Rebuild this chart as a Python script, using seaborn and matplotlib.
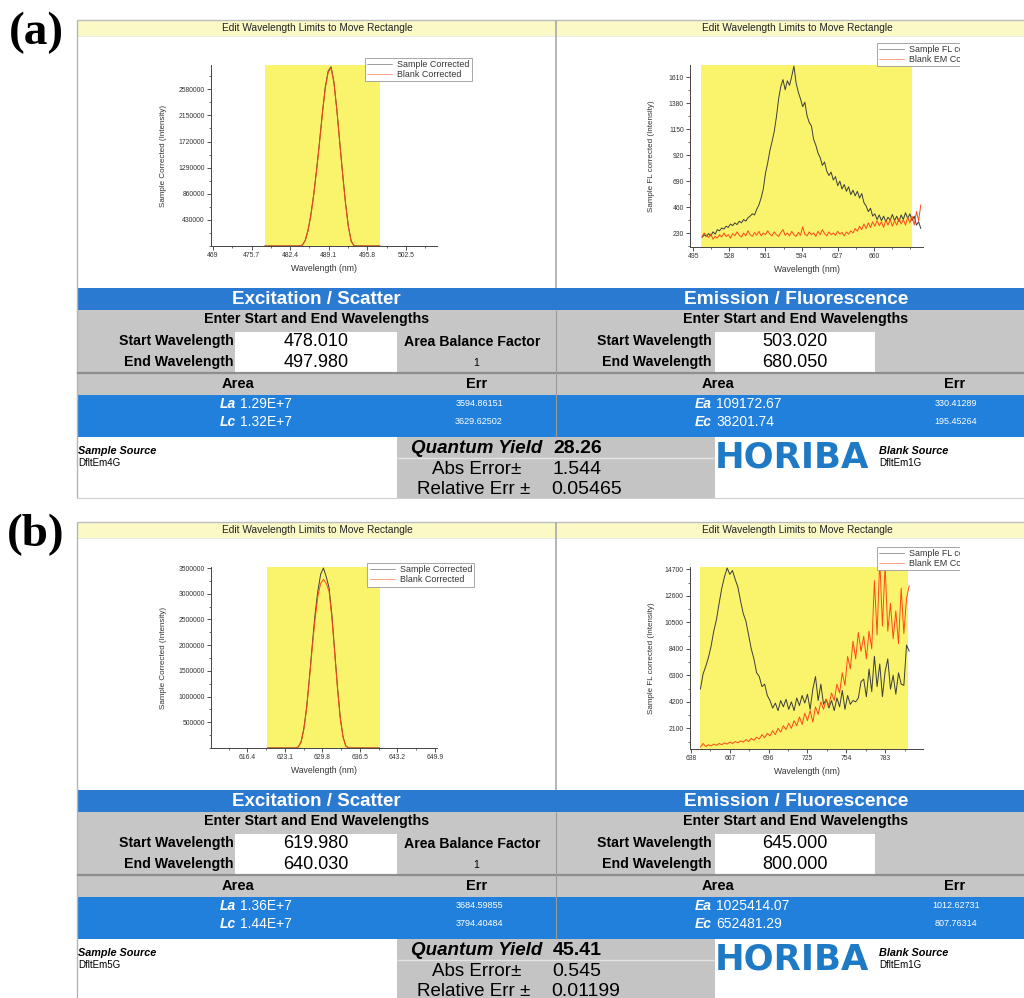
import numpy as np
import pandas as pd
import matplotlib
matplotlib.use("Agg")
import matplotlib.pyplot as plt
import matplotlib.ticker as mticker
from matplotlib.patches import Rectangle
from matplotlib.transforms import Bbox, TransformedBbox
import seaborn as sns

# ------------------------------------------------------------------ data
# (a) excitation / scatter window
exc_a_wl = np.arange(478.0, 498.01, 0.5)
exc_a_sample = [0, 0, 0, 0, 0, 0, 0, 0, 0, 0, 0, 0, 0,
                15000, 90000, 260000, 520000, 860000, 1270000, 1720000, 2200000, 2620000,
                2880000, 2950000, 2700000, 2250000, 1720000, 1200000, 720000, 330000, 80000, 5000,
                0, 0, 0, 0, 0, 0, 0, 0, 0]
exc_a_blank = [0, 0, 0, 0, 0, 0, 0, 0, 0, 0, 0, 0, 0,
               12000, 85000, 250000, 505000, 845000, 1250000, 1700000, 2180000, 2600000,
               2860000, 2930000, 2690000, 2240000, 1710000, 1190000, 710000, 320000, 75000, 4000,
               0, 0, 0, 0, 0, 0, 0, 0, 0]
# (a) emission / fluorescence window
em_a_wl = np.arange(503, 704, 2)
em_a_sample = [190, 215, 200, 225, 205, 240, 220, 260, 250, 275,
               265, 290, 280, 310, 295, 320, 305, 335, 320, 350,
               335, 365, 380, 400, 390, 440, 480, 540, 620, 760,
               850, 960, 1040, 1130, 1260, 1420, 1530, 1590, 1500, 1580,
               1540, 1620, 1710, 1560, 1480, 1420, 1350, 1390, 1270, 1210,
               1180, 1060, 1010, 940, 900, 830, 860, 780, 740, 770,
               700, 730, 650, 690, 620, 660, 600, 640, 570, 610,
               560, 600, 540, 580, 500, 470, 420, 450, 380, 400,
               350, 390, 340, 380, 330, 370, 345, 395, 340, 380,
               330, 390, 350, 410, 360, 400, 340, 380, 300, 330,
               270]
em_a_blank = [200, 230, 210, 190, 220, 175, 200, 185, 215, 195,
              230, 200, 215, 185, 225, 205, 240, 210, 195, 230,
              205, 250, 215, 200, 235, 210, 245, 205, 230, 215,
              250, 220, 205, 240, 215, 200, 235, 260, 210, 230,
              205, 245, 215, 200, 235, 210, 285, 220, 205, 240,
              215, 230, 200, 245, 215, 260, 225, 205, 240, 215,
              230, 210, 245, 220, 235, 205, 240, 220, 250, 230,
              270, 245, 290, 260, 310, 270, 320, 280, 330, 290,
              340, 295, 330, 280, 345, 300, 350, 290, 340, 300,
              360, 310, 350, 300, 370, 320, 380, 300, 420, 340,
              480]
# (b) excitation / scatter window
exc_b_wl = np.arange(620.0, 640.01, 0.5)
exc_b_sample = [0, 0, 0, 0, 0, 0, 0, 0, 0, 0, 0,
                20000, 120000, 380000, 800000, 1380000, 2000000, 2600000, 3050000, 3380000,
                3500000, 3330000, 3120000, 2600000, 1900000, 1200000, 600000, 220000, 40000, 0,
                0, 0, 0, 0, 0, 0, 0, 0, 0, 0, 0]
exc_b_blank = [0, 0, 0, 0, 0, 0, 0, 0, 0, 0, 0,
               18000, 110000, 360000, 770000, 1340000, 1950000, 2500000, 2950000, 3200000,
               3280000, 3200000, 3050000, 2540000, 1860000, 1170000, 580000, 210000, 35000, 0,
               0, 0, 0, 0, 0, 0, 0, 0, 0, 0, 0]
# (b) emission / fluorescence window
em_b_wl = np.arange(645, 802, 2)
em_b_sample = [5200, 6400, 7000, 7700, 8600, 9800, 10700, 12000, 13200, 14100,
               14800, 14300, 14600, 13900, 13300, 12200, 11200, 10600, 9500, 8400,
               7600, 6500, 6200, 5400, 5600, 4700, 4300, 3700, 4100, 3500,
               4300, 3800, 4400, 3600, 4200, 3500, 4500, 3900, 4700, 4100,
               4800, 3600, 5200, 6200, 4300, 5600, 4000, 4400, 3700, 4300,
               3500, 4500, 3800, 5100, 3600, 4700, 4000, 4300, 4200, 4500,
               5800, 6000, 4600, 6800, 5000, 7800, 5400, 7200, 4600, 6600,
               7600, 5200, 6300, 4800, 6500, 5600, 5500, 8700, 8200]
em_b_blank = [600, 900, 650, 800, 700, 850, 750, 900, 800, 950,
              850, 1000, 900, 1050, 950, 1100, 1000, 1200, 1050, 1300,
              1150, 1400, 1250, 1600, 1350, 1700, 1500, 1900, 1600, 2100,
              1800, 2300, 2000, 2500, 2100, 2700, 2300, 3000, 2400, 3300,
              2700, 3500, 2600, 3800, 3200, 4200, 3600, 4400, 3900, 4900,
              4300, 5600, 4900, 6500, 5500, 7800, 6800, 9000, 7600, 9700,
              8200, 9400, 7600, 9800, 8400, 13800, 9500, 15500, 10200, 15000,
              9800, 12000, 9200, 11400, 8800, 13200, 9600, 12400, 13400]

# highlighted integration windows (as drawn)
exc_a_window = (478.01, 497.98)
em_a_window = (502.5, 695.0)
exc_b_window = (619.98, 640.03)
em_b_window = (645.0, 800.0)

# tick values
exc_a_xticks = [469, 475.7, 482.4, 489.1, 495.8, 502.5]
exc_a_yticks = [430000, 860000, 1290000, 1720000, 2150000, 2580000]
em_a_xticks = [495, 528, 561, 594, 627, 660]
em_a_yticks = [230, 460, 690, 920, 1150, 1380, 1610]
exc_b_xticks = [616.4, 623.1, 629.8, 636.5, 643.2, 649.9]
exc_b_yticks = [500000, 1000000, 1500000, 2000000, 2500000, 3000000, 3500000]
em_b_xticks = [638, 667, 696, 725, 754, 783]
em_b_yticks = [2100, 4200, 6300, 8400, 10500, 12600, 14700]

# table texts
table_a = dict(exc_start="478.010", exc_end="497.980", La="1.29E+7", Lc="1.32E+7",
               La_err="3594.86151", Lc_err="3629.62502", em_start="503.020", em_end="680.050",
               Ea="109172.67", Ec="38201.74", Ea_err="330.41289", Ec_err="195.45264",
               qy="28.26", abs_err="1.544", rel_err="0.05465", abf="1",
               sample_src="DfltEm4G", blank_src="DfltEm1G")
table_b = dict(exc_start="619.980", exc_end="640.030", La="1.36E+7", Lc="1.44E+7",
               La_err="3684.59855", Lc_err="3794.40484", em_start="645.000", em_end="800.000",
               Ea="1025414.07", Ec="652481.29", Ea_err="1012.62731", Ec_err="807.76314",
               qy="45.41", abs_err="0.545", rel_err="0.01199", abf="1",
               sample_src="DfltEm5G", blank_src="DfltEm1G")

# ------------------------------------------------------------------ style
sns.set_theme(style="white")
plt.rcParams["font.family"] = ["Liberation Sans", "DejaVu Sans"]

W, H = 1024, 998
YELLOW = "#f9f46c"
HEADER_Y = "#fbf9c6"
BLUE_H = "#2b7ad2"
BLUE_R = "#2180dc"
GRAY = "#c6c6c6"
SAMPLE_C = "#3c3c3c"
BLANK_C = "#ff4a1a"

fig = plt.figure(figsize=(W / 100, H / 100), dpi=100)
fig.patch.set_facecolor("white")
bg = fig.add_axes([0, 0, 1, 1])
bg.set_xlim(0, W)
bg.set_ylim(H, 0)
bg.axis("off")
bg.set_zorder(0)

clipbox = TransformedBbox(Bbox.from_extents(0, 0, 9.60, 9.98), fig.dpi_scale_trans)


def box(x0, y0, x1, y1, fc, z=1):
    bg.add_patch(Rectangle((x0, y0), x1 - x0, y1 - y0, facecolor=fc,
                           edgecolor="none", zorder=z))


def hline(y, x0, x1, c, lw=1.0, z=3):
    bg.plot([x0, x1], [y, y], color=c, lw=lw, zorder=z, solid_capstyle="butt")


def vline(x, y0, y1, c, lw=1.0, z=3):
    bg.plot([x, x], [y0, y1], color=c, lw=lw, zorder=z, solid_capstyle="butt")


def txt(x, y, s, size, c="black", ha="center", va="center", weight="normal",
        style="normal", family=None, z=5):
    kw = {}
    if family is not None:
        kw["family"] = family
    return bg.text(x, y, s, fontsize=size, color=c, ha=ha, va=va, fontweight=weight,
                   fontstyle=style, zorder=z, **kw)


def spectrum_axes(px0, py0, px1, py1, wl, sample, blank, names, window, xlim, ylim,
                  xticks, yticks, ylabel, leg_anchor, ylabel_x, clip_legend=False):
    ax = fig.add_axes([px0 / W, 1 - py1 / H, (px1 - px0) / W, (py1 - py0) / H])
    ax.set_zorder(2)
    ax.patch.set_alpha(0)
    ax.axvspan(window[0], window[1], color=YELLOW, lw=0, zorder=0)
    df = pd.DataFrame({
        "wl": np.concatenate([wl, wl]),
        "val": np.concatenate([sample, blank]),
        "series": [names[0]] * len(wl) + [names[1]] * len(wl),
    })
    sns.lineplot(data=df, x="wl", y="val", hue="series", hue_order=names,
                 palette={names[0]: SAMPLE_C, names[1]: BLANK_C}, ax=ax,
                 lw=0.7, estimator=None, sort=False)
    ax.set_xlim(xlim)
    ax.set_ylim(ylim)
    ax.set_xticks(xticks)
    ax.set_yticks(yticks)
    ax.xaxis.set_major_formatter(mticker.FormatStrFormatter("%g"))
    ax.yaxis.set_major_formatter(mticker.FormatStrFormatter("%d"))
    ax.xaxis.set_minor_locator(mticker.AutoMinorLocator(2))
    ax.yaxis.set_minor_locator(mticker.AutoMinorLocator(2))
    ax.tick_params(which="major", direction="out", length=3, width=0.6,
                   labelsize=4.9, pad=1.5, colors="#333333", bottom=True, left=True)
    ax.tick_params(which="minor", direction="out", length=1.6, width=0.5,
                   colors="#333333", bottom=True, left=True)
    for s in ("top", "right"):
        ax.spines[s].set_visible(False)
    for s in ("left", "bottom"):
        ax.spines[s].set_color("#444444")
        ax.spines[s].set_linewidth(0.7)
    ax.set_xlabel("Wavelength (nm)", fontsize=6.2, color="#333333")
    ax.set_ylabel(ylabel, fontsize=5.8, color="#333333")
    h = py1 - py0
    w = px1 - px0
    ax.xaxis.set_label_coords(0.5, -(264 - 246) / h)
    ax.yaxis.set_label_coords((ylabel_x - px0) / w, 0.5)
    handles, labels = ax.get_legend_handles_labels()
    leg = ax.legend(handles, labels, loc="upper left", bbox_to_anchor=leg_anchor,
                    frameon=True, fancybox=False, edgecolor="#999999", facecolor="white",
                    framealpha=1, fontsize=6.4, handlelength=2.8, handletextpad=0.6,
                    borderpad=0.25, labelspacing=0.12, borderaxespad=0)
    leg.get_frame().set_linewidth(0.6)
    for ln in leg.get_lines():
        ln.set_linewidth(0.6)
        ln.set_alpha(0.6)
    for t in leg.get_texts():
        t.set_color("#333333")
    if clip_legend:
        leg.legendPatch.set_clip_box(clipbox)
        leg.legendPatch.set_clip_on(True)
        for t in leg.get_texts():
            t.set_clip_box(clipbox)
            t.set_clip_on(True)
    return ax


def draw_panel(dy, label, tb, exc, em):
    # panel letter
    txt(36, 33 + dy, label, 34, weight="bold", family=["Liberation Serif", "DejaVu Serif"])
    # chart window frames
    box(77, 20 + dy, W, 36 + dy, HEADER_Y, z=1)
    hline(20 + dy, 77, W, "#bdbdbd", lw=1)
    hline(36 + dy, 77, W, "#e6e6e6", lw=0.6)
    vline(77, 20 + dy, 498 + dy, "#b5b5b5", lw=1)
    vline(556, 20 + dy, 288 + dy, "#a9a9a9", lw=1.2)
    txt(317, 28 + dy, "Edit Wavelength Limits to Move Rectangle", 7.3, c="#222222")
    txt(797, 28 + dy, "Edit Wavelength Limits to Move Rectangle", 7.3, c="#222222")

    # table
    box(77, 288 + dy, W, 310 + dy, BLUE_H)
    box(77, 310 + dy, W, 395 + dy, GRAY)
    box(235, 331.5 + dy, 397, 372 + dy, "white", z=2)
    box(715, 331.5 + dy, 875, 372 + dy, "white", z=2)
    hline(373 + dy, 77, W, "#8e8e8e", lw=1.6)
    box(77, 395 + dy, W, 437 + dy, BLUE_R)
    vline(556, 310 + dy, 437 + dy, "#9a9a9a", lw=0.8)
    box(397, 437 + dy, 715, 498 + dy, "#c4c4c4", z=2)
    hline(458 + dy, 397, 715, "#e4e4e4", lw=1.0)
    hline(498 + dy, 77, W, "#d0d0d0", lw=0.8)

    txt(316.5, 299 + dy, "Excitation / Scatter", 13.5, c="white", weight="bold")
    txt(796.5, 299 + dy, "Emission / Fluorescence", 13.8, c="white", weight="bold")
    txt(316.5, 319 + dy, "Enter Start and End Wavelengths", 10.3, weight="bold")
    txt(796, 319 + dy, "Enter Start and End Wavelengths", 10.3, weight="bold")
    for xr in (234, 712):
        txt(xr, 340.5 + dy, "Start Wavelength", 10.2, ha="right", weight="bold")
        txt(xr, 362 + dy, "End Wavelength", 10.2, ha="right", weight="bold")
    txt(316, 341 + dy, tb["exc_start"], 13)
    txt(316, 362.5 + dy, tb["exc_end"], 13)
    txt(795, 341 + dy, tb["em_start"], 13)
    txt(795, 362.5 + dy, tb["em_end"], 13)
    txt(472, 341.5 + dy, "Area Balance Factor", 10.2, weight="bold")
    txt(476, 363 + dy, tb["abf"], 7.5)
    txt(238, 384.5 + dy, "Area", 10.5, weight="bold")
    txt(477, 384.5 + dy, "Err", 10.5, weight="bold")
    txt(718, 384.5 + dy, "Area", 10.5, weight="bold")
    txt(955, 384.5 + dy, "Err", 10.5, weight="bold")

    for (xl, yy, key, val) in ((220, 404.5, "La", tb["La"]), (220, 422.5, "Lc", tb["Lc"]),
                               (695, 404.5, "Ea", tb["Ea"]), (695, 422.5, "Ec", tb["Ec"])):
        lab = txt(xl, yy + dy, key, 10, c="white", ha="left", weight="bold", style="italic")
        bg.annotate(val, xy=(1, 0.5), xycoords=lab, xytext=(3, 0), textcoords="offset points",
                    ha="left", va="center", fontsize=10, color="white", zorder=5)
    txt(479, 404 + dy, tb["La_err"], 6.5, c="white")
    txt(479, 422 + dy, tb["Lc_err"], 6.5, c="white")
    txt(956, 403 + dy, tb["Ea_err"], 6.5, c="white")
    txt(956, 422 + dy, tb["Ec_err"], 6.5, c="white")

    txt(78, 451.5 + dy, "Sample Source", 7.8, ha="left", weight="bold", style="italic")
    txt(78, 463 + dy, tb["sample_src"], 7, ha="left")
    txt(477, 448.5 + dy, "Quantum Yield", 13.5, weight="bold", style="italic")
    txt(477, 469.5 + dy, "Abs Error±", 13.5)
    txt(474, 489.5 + dy, "Relative Err ±", 13.5)
    txt(553, 448.5 + dy, tb["qy"], 14, ha="left", weight="bold")
    txt(552, 469.5 + dy, tb["abs_err"], 14, ha="left")
    txt(551, 489.5 + dy, tb["rel_err"], 14, ha="left")
    txt(715, 467 + dy, "HORIBA", 25.5, c="#1f7ac6", ha="left", va="baseline",
        weight="bold", family=["DejaVu Sans"])
    txt(879, 451.5 + dy, "Blank Source", 7.8, ha="left", weight="bold", style="italic")
    txt(879, 463 + dy, tb["blank_src"], 7, ha="left")

    spectrum_axes(211, 65 + dy, 437, 246 + dy, exc["wl"], exc["sample"], exc["blank"],
                  ["Sample Corrected", "Blank Corrected"], exc["window"], exc["xlim"],
                  exc["ylim"], exc["xticks"], exc["yticks"], "Sample Corrected (Intensity)",
                  exc["leg"], 167)
    spectrum_axes(690, 65 + dy, 923, 247 + dy, em["wl"], em["sample"], em["blank"],
                  ["Sample FL corrected", "Blank EM Corrected"], em["window"], em["xlim"],
                  em["ylim"], em["xticks"], em["yticks"], "Sample FL corrected (Intensity)",
                  em["leg"], 655, clip_legend=True)


draw_panel(0, "(a)", table_a,
           dict(wl=exc_a_wl, sample=exc_a_sample, blank=exc_a_blank, window=exc_a_window,
                xlim=(468.65, 507.9), ylim=(0, 2.98e6), xticks=exc_a_xticks,
                yticks=exc_a_yticks, leg=(0.681, 1.039)),
           dict(wl=em_a_wl, sample=em_a_sample, blank=em_a_blank, window=em_a_window,
                xlim=(492, 705), ylim=(106, 1720), xticks=em_a_xticks,
                yticks=em_a_yticks, leg=(0.801, 1.121)))
draw_panel(502, "(b)", table_b,
           dict(wl=exc_b_wl, sample=exc_b_sample, blank=exc_b_blank, window=exc_b_window,
                xlim=(609.9, 650.3), ylim=(0, 3.52e6), xticks=exc_b_xticks,
                yticks=exc_b_yticks, leg=(0.692, 1.022)),
           dict(wl=em_b_wl, sample=em_b_sample, blank=em_b_blank, window=em_b_window,
                xlim=(637.25, 811.3), ylim=(460, 14880), xticks=em_b_xticks,
                yticks=em_b_yticks, leg=(0.801, 1.112)))

fig.savefig("out.png", dpi=100)
